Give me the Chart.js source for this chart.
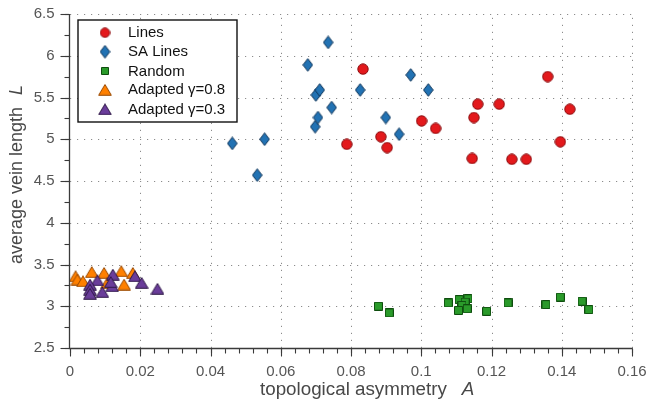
<!DOCTYPE html>
<html>
<head>
<meta charset="utf-8">
<script src="https://cdn.jsdelivr.net/npm/chart.js@4/dist/chart.umd.min.js"></script>
<style>
html,body{margin:0;padding:0;background:#fff;}
canvas{display:block;}
</style>
</head>
<body>
<canvas id="c" width="647" height="406"></canvas>
<script>
// ---- data ----
const linesX = [0.0788,0.0834,0.0885,0.0903,0.1001,0.1041,0.1145,0.1150,0.1161,0.1222,0.1258,0.1299,0.1360,0.1396,0.1423];
const linesY = [4.94,5.84,5.03,4.90,5.22,5.13,4.77,5.26,5.42,5.42,4.76,4.76,5.75,4.97,5.36];
const saX = [0.0462,0.0533,0.0554,0.0677,0.0698,0.0706,0.0700,0.0711,0.0735,0.0745,0.0826,0.0899,0.0937,0.0970,0.1020];
const saY = [4.95,4.57,5.00,5.89,5.15,5.26,5.53,5.59,6.16,5.38,5.59,5.26,5.06,5.77,5.59];
const randX = [0.0878,0.0909,0.1077,0.1108,0.1133,0.1125,0.1116,0.1106,0.1131,0.1186,0.1247,0.1355,0.1396,0.1458,0.1477];
const randY = [3.00,2.92,3.04,3.08,3.09,3.05,3.01,2.95,2.97,2.94,3.04,3.02,3.11,3.06,2.96];
const ad08X = [0.0016,0.0021,0.0037,0.0062,0.0097,0.0106,0.0146,0.0154,0.0179];
const ad08Y = [3.36,3.32,3.30,3.41,3.40,3.28,3.42,3.26,3.40];
const ad03X = [0.0122,0.0185,0.0204,0.0249,0.0078,0.0057,0.0057,0.0057,0.0092,0.0120,0.0116];
const ad03Y = [3.38,3.36,3.28,3.21,3.31,3.26,3.20,3.15,3.17,3.24,3.29];
const seriesNames = ['Lines','SA Lines','Random','Adapted \u03b3=0.8','Adapted \u03b3=0.3'];
const xTicks = [0,0.02,0.04,0.06,0.08,0.1,0.12,0.14,0.16];
const xTickLabels = ['0','0.02','0.04','0.06','0.08','0.1','0.12','0.14','0.16'];
const yTicks = [2.5,3,3.5,4,4.5,5,5.5,6,6.5];
const yTickLabels = ['2.5','3','3.5','4','4.5','5','5.5','6','6.5'];
const xMinorStep = 0.004, yMinorStep = 0.25;
const xTitle = 'topological asymmetry', xTitleSym = 'A';
const yTitle = 'average vein length', yTitleSym = 'L';

// ---- marker images ----
function marker(kind, fill, stroke, w, h){
  const c = document.createElement('canvas');
  c.width = w; c.height = h;
  const g = c.getContext('2d');
  g.fillStyle = fill; g.strokeStyle = stroke; g.lineWidth = 1;
  g.beginPath();
  if (kind === 'circle'){
    g.arc(w/2, h/2, Math.min(w,h)/2 - 0.8, 0, Math.PI*2);
  } else if (kind === 'diamond'){
    g.moveTo(w/2, 0.7); g.lineTo(w-0.7, h/2); g.lineTo(w/2, h-0.7); g.lineTo(0.7, h/2); g.closePath();
  } else if (kind === 'square'){
    g.rect(0.5, 0.5, w-1, h-1);
  } else if (kind === 'triangle'){
    g.moveTo(w/2, 0.7); g.lineTo(w-0.7, h-0.7); g.lineTo(0.7, h-0.7); g.closePath();
  }
  g.fill(); g.stroke();
  return c;
}
const styles = [
  {kind:'circle', fill:'#e3191c', stroke:'#8a0e10', w:12, h:12},
  {kind:'diamond', fill:'#2272b3', stroke:'#0d3459', w:11, h:14},
  {kind:'square', fill:'#2a9a2a', stroke:'#0e4d0e', w:9, h:9},
  {kind:'triangle', fill:'#ff8000', stroke:'#9a4a00', w:14, h:12},
  {kind:'triangle', fill:'#6a3d9a', stroke:'#2e1846', w:14, h:12}
];
const imgs = styles.map(s => marker(s.kind, s.fill, s.stroke, s.w, s.h));
const legendImgs = [
  marker('circle', styles[0].fill, styles[0].stroke, 11, 11),
  marker('diamond', styles[1].fill, styles[1].stroke, 11, 14),
  marker('square', styles[2].fill, styles[2].stroke, 8, 8),
  marker('triangle', styles[3].fill, styles[3].stroke, 14, 12),
  marker('triangle', styles[4].fill, styles[4].stroke, 14, 12)
];

function pts(xs, ys){ return xs.map((x,i)=>({x:x, y:ys[i]})); }
const allX = [linesX, saX, randX, ad08X, ad03X];
const allY = [linesY, saY, randY, ad08Y, ad03Y];
const orders = [4,3,2,1,0];
const datasets = seriesNames.map((n,i)=>({
  label: n,
  data: pts(allX[i], allY[i]),
  pointStyle: imgs[i],
  pointRadius: 6,
  pointHoverRadius: 6,
  order: orders[i]
}));

const FONT = '"Liberation Sans", Arial, Helvetica, sans-serif';

const deco = {
  id: 'deco',
  beforeDatasetsDraw(chart){
    const ctx = chart.ctx, xs = chart.scales.x, ys = chart.scales.y, a = chart.chartArea;
    ctx.save();
    ctx.strokeStyle = '#8c8c8c';
    ctx.lineWidth = 1;
    ctx.setLineDash([1.2, 5.8]);
    xTicks.forEach(v => {
      if (v === xTicks[0]) return;
      const p = Math.round(xs.getPixelForValue(v)) + 0.5;
      ctx.beginPath(); ctx.moveTo(p, a.bottom); ctx.lineTo(p, a.top); ctx.stroke();
    });
    yTicks.forEach(v => {
      if (v === yTicks[0]) return;
      const p = Math.round(ys.getPixelForValue(v)) + 0.5;
      ctx.beginPath(); ctx.moveTo(a.left, p); ctx.lineTo(a.right, p); ctx.stroke();
    });
    ctx.restore();
  },
  afterDatasetsDraw(chart){
    const ctx = chart.ctx, xs = chart.scales.x, ys = chart.scales.y, a = chart.chartArea;
    ctx.save();
    // axis lines
    ctx.strokeStyle = '#3a3a3a';
    ctx.lineWidth = 1.3;
    const ax = Math.round(a.left) - 0.5, ay = Math.round(a.bottom) + 0.5;
    ctx.beginPath();
    ctx.moveTo(ax, a.top); ctx.lineTo(ax, ay); ctx.lineTo(a.right + 0.5, ay);
    ctx.stroke();
    // minor ticks
    ctx.lineWidth = 1.1;
    for (let v = 0; v <= 0.16 + 1e-9; v += xMinorStep){
      const p = Math.round(xs.getPixelForValue(v)) + 0.5;
      ctx.beginPath(); ctx.moveTo(p, ay); ctx.lineTo(p, ay + 5); ctx.stroke();
    }
    for (let v = 2.5; v <= 6.5 + 1e-9; v += yMinorStep){
      const p = Math.round(ys.getPixelForValue(v)) + 0.5;
      ctx.beginPath(); ctx.moveTo(ax, p); ctx.lineTo(ax - 5, p); ctx.stroke();
    }
    // major ticks
    xTicks.forEach(v => {
      const p = Math.round(xs.getPixelForValue(v)) + 0.5;
      ctx.beginPath(); ctx.moveTo(p, ay); ctx.lineTo(p, ay + 8); ctx.stroke();
    });
    yTicks.forEach(v => {
      const p = Math.round(ys.getPixelForValue(v)) + 0.5;
      ctx.beginPath(); ctx.moveTo(ax, p); ctx.lineTo(ax - 9, p); ctx.stroke();
    });
    // tick labels
    ctx.fillStyle = '#555555';
    ctx.font = '15px ' + FONT;
    ctx.textAlign = 'center'; ctx.textBaseline = 'middle';
    xTicks.forEach((v,i) => ctx.fillText(xTickLabels[i], xs.getPixelForValue(v), ay + 23));
    ctx.textAlign = 'right';
    yTicks.forEach((v,i) => ctx.fillText(yTickLabels[i], ax - 15, ys.getPixelForValue(v)));
    // axis titles
    ctx.fillStyle = '#484848';
    ctx.font = '18.8px ' + FONT;
    ctx.textAlign = 'left'; ctx.textBaseline = 'middle';
    const xw = ctx.measureText(xTitle).width;
    const xStart = 260;
    ctx.fillText(xTitle, xStart, 390);
    ctx.font = 'italic 18.8px ' + FONT;
    ctx.fillText(xTitleSym, xStart + xw + 15, 390);
    ctx.save();
    ctx.translate(17, 264);
    ctx.rotate(-Math.PI/2);
    ctx.font = '18px ' + FONT;
    const yw = ctx.measureText(yTitle).width;
    ctx.fillText(yTitle, 0, 0);
    ctx.font = 'italic 18px ' + FONT;
    ctx.fillText(yTitleSym, yw + 12, 0);
    ctx.restore();
    // legend
    ctx.setLineDash([]);
    ctx.fillStyle = '#ffffff';
    ctx.fillRect(78, 20, 159, 102);
    ctx.strokeStyle = '#111';
    ctx.lineWidth = 1.4;
    ctx.strokeRect(78, 20, 159, 102);
    const rows = [32.7, 51.7, 71, 89.8, 109.3];
    ctx.font = '15px ' + FONT;
    ctx.fillStyle = '#111';
    ctx.textAlign = 'left'; ctx.textBaseline = 'middle';
    seriesNames.forEach((n,i) => {
      const im = legendImgs[i];
      ctx.drawImage(im, 105 - im.width/2, rows[i] - im.height/2);
      ctx.fillText(n, 128, rows[i] + 0.5);
    });
    ctx.restore();
  }
};

new Chart(document.getElementById('c'), {
  type: 'scatter',
  data: { datasets: datasets },
  options: {
    responsive: false,
    animation: false,
    events: [],
    layout: { padding: { top: 14, right: 15, left: 0, bottom: 0 } },
    plugins: { legend: { display: false }, tooltip: { enabled: false } },
    scales: {
      x: { type: 'linear', min: 0, max: 0.16,
           grid: { display: false }, border: { display: false }, ticks: { display: false },
           afterFit(s){ s.height = 58; } },
      y: { type: 'linear', min: 2.5, max: 6.5,
           grid: { display: false }, border: { display: false }, ticks: { display: false },
           afterFit(s){ s.width = 70; } }
    }
  },
  plugins: [deco]
});
</script>
</body>
</html>
